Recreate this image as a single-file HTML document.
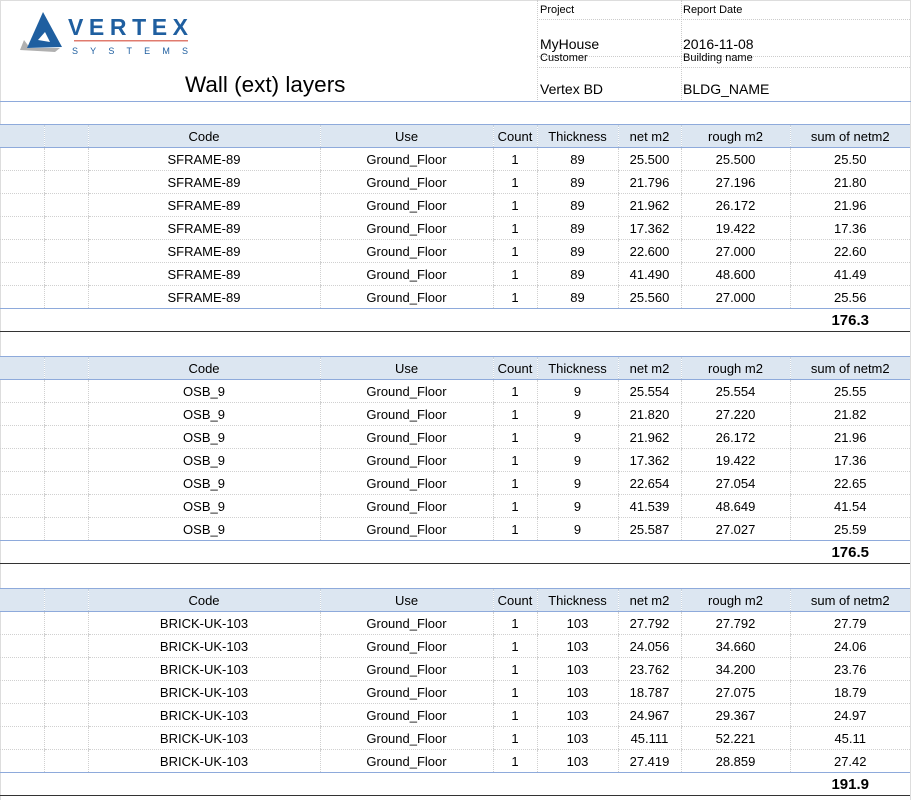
<!DOCTYPE html>
<html><head><meta charset="utf-8"><style>
body{margin:0;width:912px;height:800px;background:#fff;font-family:"Liberation Sans",Arial,sans-serif;position:relative;overflow:hidden;color:#000}
.a{position:absolute}
.hl{position:absolute;height:0;border-top:1px dotted #ccc}
.vl{position:absolute;width:0;border-left:1px dotted #ccc}
table{position:absolute;left:0;border-collapse:collapse;table-layout:fixed;font-size:13px}
td{height:22px;padding:0;text-align:center;border-left:1px dotted #d0d0d0;border-bottom:1px dotted #d0d0d0;white-space:nowrap;overflow:hidden}
tr.h td{background:#dce6f1;border-top:1px solid #8eaadb;border-bottom:1px solid #8eaadb;border-left:1px dotted #c8d2dd}
tr.t td{border-left:none;border-top:1px solid #8eaadb;border-bottom:1px solid #333;font-weight:bold;font-size:15px;text-align:right;padding-right:41px}
</style></head><body>
<div class="a" style="left:0;top:0;width:911px;height:1px;background:#ddd"></div>
<div class="a" style="left:0;top:0;width:1px;height:800px;background:#ddd"></div>
<div class="a" style="left:910px;top:0;width:1px;height:800px;background:#ddd"></div>
<svg class="a" style="left:0;top:0" width="200" height="60">
<polygon points="24,40 20,50 55,52 60,48 30,48" fill="#b0b0b0"/>
<polygon points="27,48 43,12 62,47" fill="#1f5fa0"/>
<polygon points="38,40 45,32 50,42" fill="#fff"/>
<text x="68" y="35" font-family="Liberation Sans" font-weight="bold" font-size="23" fill="#1f5fa0" textLength="120" lengthAdjust="spacing">VERTEX</text>
<rect x="74" y="40" width="114" height="1.5" fill="#e07b6e"/>
<text x="72" y="54" font-family="Liberation Sans" font-size="9" fill="#1f5fa0" textLength="116" lengthAdjust="spacing">SYSTEMS</text>
</svg>
<div class="a" style="left:185px;top:72px;font-size:22.5px;font-family:'Liberation Sans',sans-serif">Wall (ext) layers</div>
<div class="vl" style="left:537px;top:0;height:102px"></div>
<div class="vl" style="left:681px;top:0;height:102px"></div>
<div class="hl" style="left:537px;top:19px;width:373px"></div>
<div class="hl" style="left:537px;top:56px;width:373px"></div>
<div class="hl" style="left:537px;top:67px;width:373px"></div>
<div class="a" style="left:540px;top:4px;font-size:11px">Project</div>
<div class="a" style="left:683px;top:4px;font-size:11px">Report Date</div>
<div class="a" style="left:540px;top:36px;font-size:14px">MyHouse</div>
<div class="a" style="left:683px;top:36px;font-size:14px">2016-11-08</div>
<div class="a" style="left:540px;top:52px;font-size:11px">Customer</div>
<div class="a" style="left:683px;top:52px;font-size:11px">Building name</div>
<div class="a" style="left:540px;top:81px;font-size:14px">Vertex BD</div>
<div class="a" style="left:683px;top:81px;font-size:14px">BLDG_NAME</div>
<div class="a" style="left:0;top:101px;width:911px;height:1px;background:#8eaadb"></div>
<div id="tables"></div>
<script>
const cols=[44,44,232,173,44,81,63,109,120];
const data=[
[124,"SFRAME-89","89",[["25.500","25.500","25.50"],["21.796","27.196","21.80"],["21.962","26.172","21.96"],["17.362","19.422","17.36"],["22.600","27.000","22.60"],["41.490","48.600","41.49"],["25.560","27.000","25.56"]],"176.3"],
[356,"OSB_9","9",[["25.554","25.554","25.55"],["21.820","27.220","21.82"],["21.962","26.172","21.96"],["17.362","19.422","17.36"],["22.654","27.054","22.65"],["41.539","48.649","41.54"],["25.587","27.027","25.59"]],"176.5"],
[588,"BRICK-UK-103","103",[["27.792","27.792","27.79"],["24.056","34.660","24.06"],["23.762","34.200","23.76"],["18.787","27.075","18.79"],["24.967","29.367","24.97"],["45.111","52.221","45.11"],["27.419","28.859","27.42"]],"191.9"]];
let h="";
for(const [top,code,th,rows,tot] of data){
h+=`<table style="top:${top}px;width:910px"><colgroup>${cols.map(w=>`<col style="width:${w}px">`).join("")}</colgroup>`;
h+=`<tr class="h"><td style="border-left:none"></td><td></td><td>Code</td><td>Use</td><td>Count</td><td>Thickness</td><td>net m2</td><td>rough m2</td><td>sum of netm2</td></tr>`;
for(const r of rows)h+=`<tr><td style="border-left:none"></td><td></td><td>${code}</td><td>Ground_Floor</td><td>1</td><td>${th}</td><td>${r[0]}</td><td>${r[1]}</td><td>${r[2]}</td></tr>`;
h+=`<tr class="t"><td colspan="9">${tot}</td></tr></table>`;
}
document.getElementById("tables").innerHTML=h;
</script>
</body></html>
